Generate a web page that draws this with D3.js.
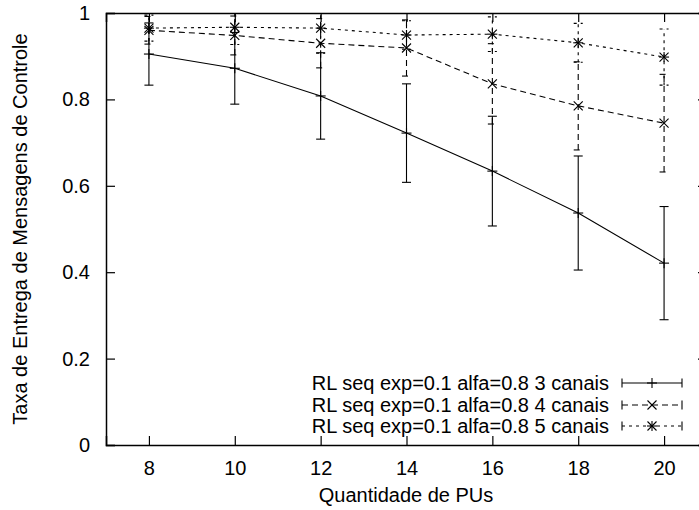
<!DOCTYPE html>
<html>
<head>
<meta charset="utf-8">
<script src="https://cdn.jsdelivr.net/npm/d3@7"></script>
<style>
  body { margin: 0; background: #fff; }
  text { font-family: "Liberation Sans", Arial, sans-serif; fill: #000; }
</style>
</head>
<body>
<svg id="chart" width="699" height="510"></svg>
<script>
// data
var pus = [8, 10, 12, 14, 16, 18, 20];
var canais3 = [0.905, 0.872, 0.808, 0.722, 0.634, 0.537, 0.421];
var erro3   = [0.072, 0.083, 0.100, 0.114, 0.127, 0.132, 0.131];
var canais4 = [0.960, 0.948, 0.930, 0.919, 0.836, 0.785, 0.745];
var erro4   = [0.032, 0.045, 0.057, 0.065, 0.093, 0.102, 0.113];
var canais5 = [0.965, 0.967, 0.965, 0.949, 0.951, 0.931, 0.898];
var erro5   = [0.030, 0.040, 0.058, 0.033, 0.040, 0.045, 0.065];
var nomes = ["RL seq exp=0.1 alfa=0.8 3 canais",
             "RL seq exp=0.1 alfa=0.8 4 canais",
             "RL seq exp=0.1 alfa=0.8 5 canais"];
var xTicks = [8, 10, 12, 14, 16, 18, 20];
var yTicks = [0, 0.2, 0.4, 0.6, 0.8, 1];

var series = [
	{ nome: nomes[0], val: canais3, err: erro3, dash: null,  ponto: "plus" },
	{ nome: nomes[1], val: canais4, err: erro4, dash: "6,4", ponto: "cross" },
	{ nome: nomes[2], val: canais5, err: erro5, dash: "3,4", ponto: "star" }
];

var svg = d3.select("#chart");
var mLeft = 106, mRight = 707, mTop = 13, mBottom = 445;

var x = d3.scaleLinear().domain([7, 21]).range([mLeft, mRight]);
var y = d3.scaleLinear().domain([0, 1]).range([mBottom, mTop]);

svg.append("clipPath").attr("id", "area")
	.append("rect")
	.attr("x", mLeft).attr("y", mTop)
	.attr("width", mRight - mLeft).attr("height", mBottom - mTop);

// axes: ticks pointing inward on all four sides, like gnuplot
var tk = 9;
svg.append("g").attr("transform", "translate(0," + mBottom + ")")
	.call(d3.axisBottom(x).tickValues(xTicks).tickSize(-tk).tickPadding(16).tickFormat(d3.format("d")));
svg.append("g").attr("transform", "translate(0," + mTop + ")")
	.call(d3.axisTop(x).tickValues(xTicks).tickSize(-tk).tickFormat(""));
svg.append("g").attr("transform", "translate(" + mLeft + ",0)")
	.call(d3.axisLeft(y).tickValues(yTicks).tickSize(-tk).tickPadding(16).tickFormat(function (d) { return String(+d.toFixed(1)); }));
svg.append("g").attr("transform", "translate(" + mRight + ",0)")
	.call(d3.axisRight(y).tickValues(yTicks).tickSize(-tk).tickFormat(""));

svg.selectAll(".domain").attr("stroke", "#000").attr("stroke-width", 1.5);
svg.selectAll(".tick line").attr("stroke", "#000").attr("stroke-width", 1.2);
svg.selectAll(".tick text").style("font-size", "20px").attr("fill", "#000")
	.style("font-family", "'Liberation Sans', Arial, sans-serif");

// axis labels
svg.append("text")
	.attr("x", 406).attr("y", 502)
	.attr("text-anchor", "middle").style("font-size", "20px")
	.text("Quantidade de PUs");
svg.append("text")
	.attr("transform", "translate(27," + (mBottom + mTop) / 2 + ") rotate(-90)")
	.attr("text-anchor", "middle").style("font-size", "20px")
	.text("Taxa de Entrega de Mensagens de Controle");

function desenhaPonto(g, tipo, cx, cy)
{
	var s = 5;
	if (tipo == "plus" || tipo == "star")
	{
		g.append("line").attr("x1", cx - s).attr("x2", cx + s).attr("y1", cy).attr("y2", cy);
		g.append("line").attr("x1", cx).attr("x2", cx).attr("y1", cy - s).attr("y2", cy + s);
	}
	if (tipo == "cross" || tipo == "star")
	{
		var d = 4.5;
		g.append("line").attr("x1", cx - d).attr("x2", cx + d).attr("y1", cy - d).attr("y2", cy + d);
		g.append("line").attr("x1", cx - d).attr("x2", cx + d).attr("y1", cy + d).attr("y2", cy - d);
	}
}

var plot = svg.append("g").attr("clip-path", "url(#area)");
var linha = d3.line().x(function (d) { return x(d[0]); }).y(function (d) { return y(d[1]); });
var cap = 4.5;

series.forEach(function (s)
{
	var g = plot.append("g").attr("stroke", "#000").attr("fill", "none").attr("stroke-width", 1.1);
	var pts = pus.map(function (p, i) { return [p, s.val[i]]; });

	g.append("path").attr("d", linha(pts)).attr("stroke-dasharray", s.dash);

	pus.forEach(function (p, i)
	{
		var lo = s.val[i] - s.err[i], hi = s.val[i] + s.err[i];
		var eb = g.append("g").attr("stroke-dasharray", s.dash);
		eb.append("line").attr("x1", x(p)).attr("x2", x(p)).attr("y1", y(lo)).attr("y2", y(hi));
		eb.append("line").attr("x1", x(p) - cap).attr("x2", x(p) + cap).attr("y1", y(lo)).attr("y2", y(lo));
		eb.append("line").attr("x1", x(p) - cap).attr("x2", x(p) + cap).attr("y1", y(hi)).attr("y2", y(hi));
		desenhaPonto(g, s.ponto, x(p), y(s.val[i]));
	});
});

// legend
var legY = [383, 405, 426];
var lx1 = 622, lx2 = 682;
series.forEach(function (s, i)
{
	var ly = legY[i];
	svg.append("text")
		.attr("x", 609).attr("y", ly + 7)
		.attr("text-anchor", "end").style("font-size", "20px")
		.text(s.nome);
	var g = svg.append("g").attr("stroke", "#000").attr("fill", "none").attr("stroke-width", 1.1);
	g.append("line").attr("x1", lx1).attr("x2", lx2).attr("y1", ly).attr("y2", ly).attr("stroke-dasharray", s.dash);
	g.append("line").attr("x1", lx1).attr("x2", lx1).attr("y1", ly - cap).attr("y2", ly + cap);
	g.append("line").attr("x1", lx2).attr("x2", lx2).attr("y1", ly - cap).attr("y2", ly + cap);
	desenhaPonto(g, s.ponto, (lx1 + lx2) / 2, ly);
});
</script>
</body>
</html>
